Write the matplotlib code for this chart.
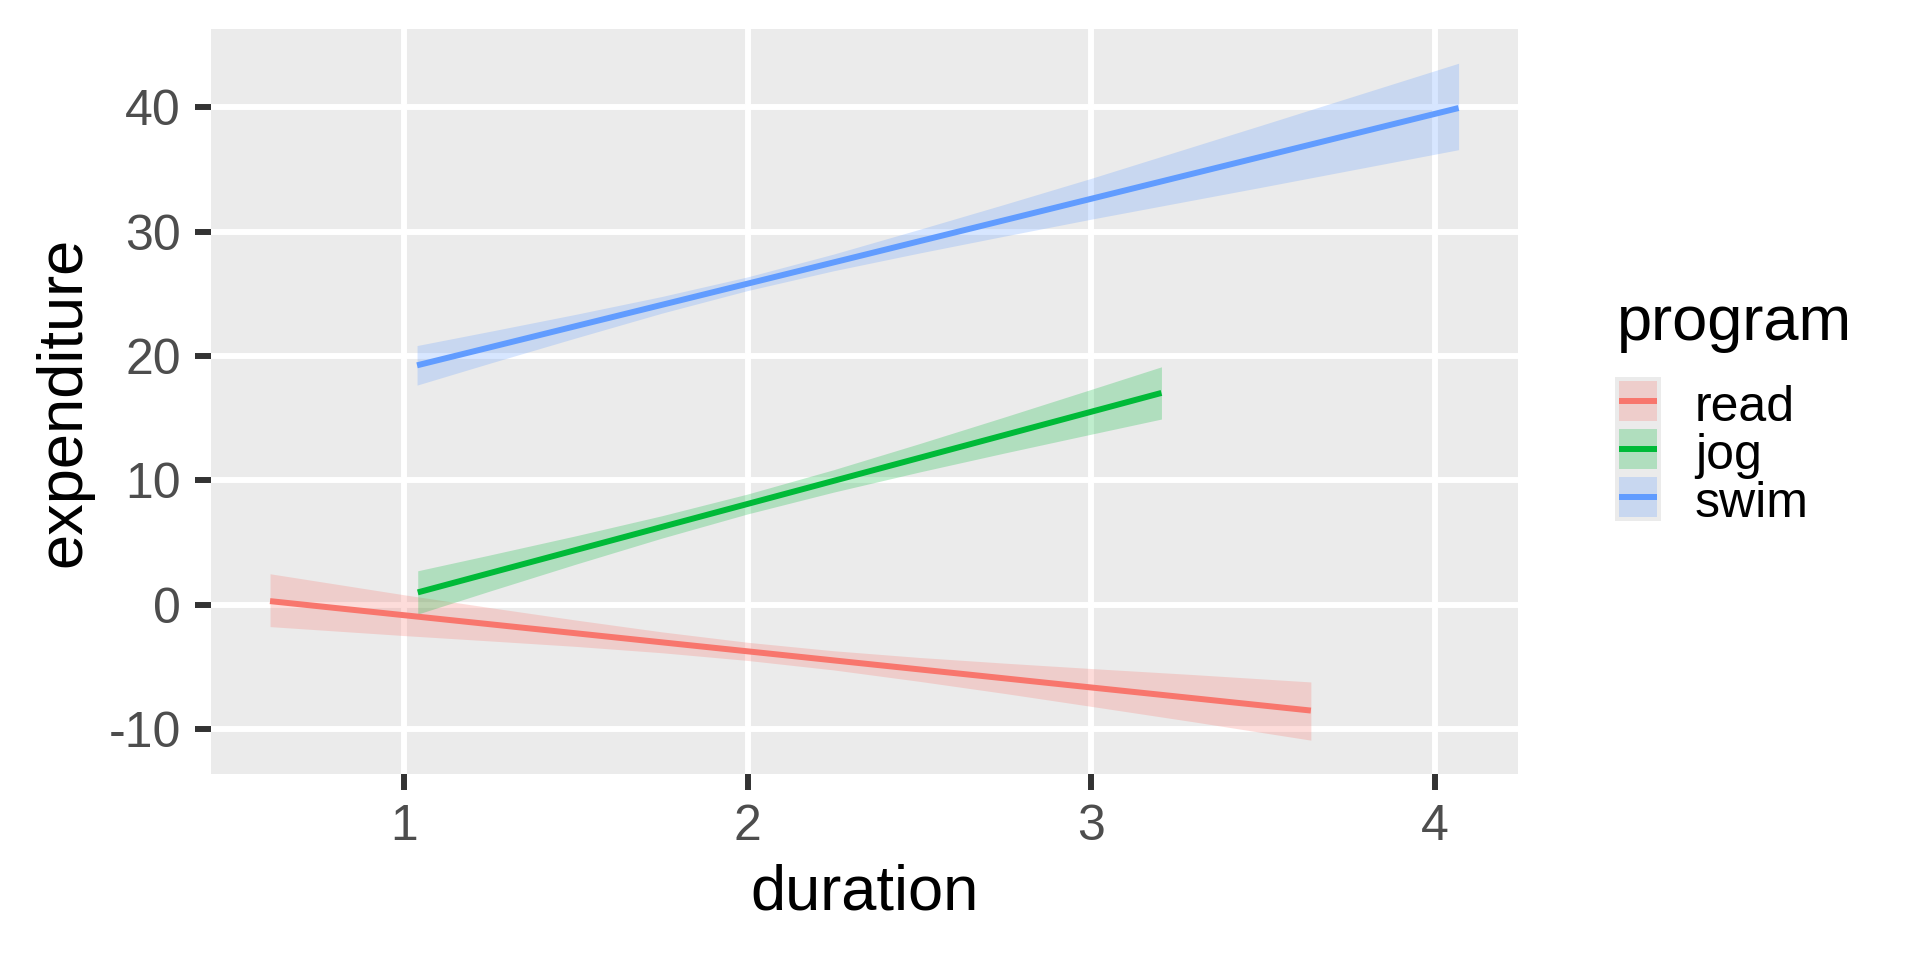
import matplotlib
matplotlib.use('Agg')
import matplotlib.pyplot as plt
from matplotlib.patches import Rectangle
from matplotlib.lines import Line2D
import numpy as np

plt.rcParams['font.family'] = ['Liberation Sans', 'DejaVu Sans']
plt.rcParams['axes.unicode_minus'] = False

# ---- data ----
programs = ['read', 'jog', 'swim']
colors = ['#F8766D', '#00BA38', '#619CFF']

# fitted lines (end points)
read_x = [0.61, 3.64]
read_y = [0.3, -8.5]
jog_x = [1.04, 3.205]
jog_y = [1.0, 17.04]
swim_x = [1.038, 4.07]
swim_y = [19.26, 39.95]

# confidence bands
read_band_x = [0.61, 1.0, 1.25, 1.5, 1.75, 2.0, 2.25, 2.5, 2.75, 3.0, 3.3, 3.64]
read_upper = [2.5, 0.81, -0.22, -1.22, -2.17, -3.01, -3.69, -4.23, -4.69, -5.12, -5.61, -6.2]
read_lower = [-1.75, -2.47, -2.9, -3.34, -3.85, -4.47, -5.23, -6.15, -7.13, -8.16, -9.41, -10.88]

jog_band_x = [1.04, 1.25, 1.5, 1.75, 2.0, 2.25, 2.5, 2.75, 3.0, 3.205]
jog_upper = [2.74, 4.01, 5.55, 7.16, 8.91, 10.86, 12.96, 15.12, 17.32, 19.14]
jog_lower = [-0.74, 1.11, 3.27, 5.36, 7.31, 9.06, 10.68, 12.22, 13.72, 14.94]

swim_band_x = [1.038, 1.25, 1.5, 1.75, 2.0, 2.25, 2.5, 2.75, 3.0, 3.5, 4.07]
swim_upper = [20.85, 21.99, 23.36, 24.79, 26.37, 28.2, 30.19, 32.22, 34.29, 38.6, 43.55]
swim_lower = [17.67, 19.43, 21.46, 23.45, 25.27, 26.86, 28.29, 29.66, 31.01, 33.6, 36.6]

x_ticks = [1, 2, 3, 4]
y_ticks = [-10, 0, 10, 20, 30, 40]

lines = [(read_x, read_y), (jog_x, jog_y), (swim_x, swim_y)]
bands = [(read_band_x, read_upper, read_lower),
         (jog_band_x, jog_upper, jog_lower),
         (swim_band_x, swim_upper, swim_lower)]

W, H = 1920, 960
fig = plt.figure(figsize=(W / 100, H / 100), dpi=100, facecolor='white')
ax = fig.add_axes([210.6 / W, 1 - 774 / H, (1518 - 210.6) / W, (774 - 29.4) / H])
ax.set_facecolor('#EBEBEB')

band_alpha = 0.25
lw = 4.3

for (lx, ly), (bx, bu, bl), c in zip(lines, bands, colors):
    ax.fill_between(bx, bl, bu, color=c, alpha=band_alpha, linewidth=0, zorder=2)
    ax.plot(lx, ly, color=c, linewidth=lw, solid_capstyle='butt', zorder=3)

# ggplot-like 5% expansion
all_x = np.concatenate([read_band_x, jog_band_x, swim_band_x])
all_y = np.concatenate([read_upper, read_lower, jog_upper, jog_lower, swim_upper, swim_lower])
dx = (all_x.max() - all_x.min()) * 0.05
dy = (all_y.max() - all_y.min()) * 0.05
ax.set_xlim(all_x.min() - dx, all_x.max() + dx)
ax.set_ylim(all_y.min() - dy, all_y.max() + dy)

ax.set_xticks(x_ticks)
ax.set_yticks(y_ticks)
ax.grid(True, color='white', linewidth=lw, zorder=1)
ax.set_axisbelow(True)
for s in ax.spines.values():
    s.set_visible(False)
ax.tick_params(axis='both', length=11.5, width=4.3, color='#333333',
               labelcolor='#4D4D4D', labelsize=36, pad=10)

ax.set_xlabel('duration', fontsize=45.5, color='black', labelpad=10)
ax.set_ylabel('expenditure', fontsize=45.5, color='black', labelpad=11)

# ---- legend (drawn by hand, ggplot style) ----
def fx(x):
    return x / W

def fy(y):
    return 1 - y / H

fig.text(fx(1617), fy(340), 'program', fontsize=45.5, color='black',
         ha='left', va='baseline')
fig.add_artist(Rectangle((fx(1615), fy(521)), fx(46), 144 / H,
                         transform=fig.transFigure, facecolor='#EBEBEB',
                         edgecolor='none'))
for i, (name, c) in enumerate(zip(programs, colors)):
    top = 381 + 48 * i
    fig.add_artist(Rectangle((fx(1619), fy(top + 40)), fx(38), 40 / H,
                             transform=fig.transFigure, facecolor=c,
                             alpha=band_alpha, edgecolor='none'))
    fig.add_artist(Line2D([fx(1619), fx(1657)], [fy(top + 20), fy(top + 20)],
                          transform=fig.transFigure, color=c, linewidth=lw,
                          solid_capstyle='butt'))
    fig.text(fx(1695), fy(top + 39.7), name, fontsize=36, color='black',
             ha='left', va='baseline')

fig.savefig('out.png', dpi=100, facecolor='white')
